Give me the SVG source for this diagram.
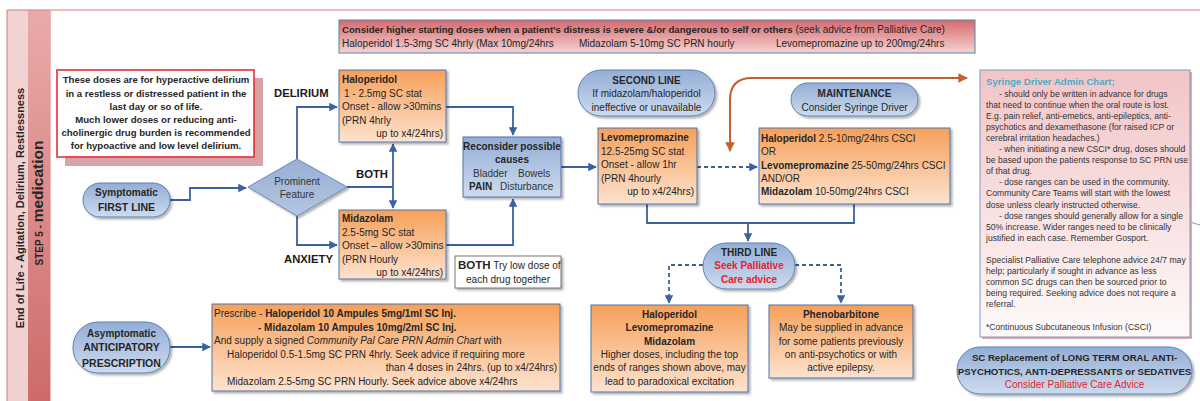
<svg xmlns="http://www.w3.org/2000/svg" width="1200" height="401" viewBox="0 0 1200 401">
<defs>
<linearGradient id="gOrange" x1="0" y1="0" x2="0" y2="1"><stop offset="0" stop-color="#f6a05a"/><stop offset="1" stop-color="#fde3cf"/></linearGradient>
<linearGradient id="gBlue" x1="0" y1="0" x2="0" y2="1"><stop offset="0" stop-color="#94aed6"/><stop offset="1" stop-color="#cddbee"/></linearGradient>
<linearGradient id="gRed" x1="0" y1="0" x2="0" y2="1"><stop offset="0" stop-color="#d5696c"/><stop offset="1" stop-color="#f5d3d3"/></linearGradient>
<linearGradient id="gPink" x1="0" y1="0" x2="0" y2="1"><stop offset="0" stop-color="#f2c4c6"/><stop offset="1" stop-color="#fefafa"/></linearGradient>
<linearGradient id="gStrip1" x1="0" y1="0" x2="0" y2="1"><stop offset="0" stop-color="#f1d3d3"/><stop offset="1" stop-color="#f0d0d0"/></linearGradient>
<linearGradient id="gStrip2" x1="0" y1="0" x2="0" y2="1"><stop offset="0" stop-color="#eaaaaa"/><stop offset="1" stop-color="#cd6b6b"/></linearGradient>
<linearGradient id="gDiam" x1="0" y1="0" x2="0" y2="1"><stop offset="0" stop-color="#98afd4"/><stop offset="1" stop-color="#b3c5e1"/></linearGradient>
<filter id="sh" x="-10%" y="-10%" width="130%" height="140%"><feDropShadow dx="2" dy="2" stdDeviation="1" flood-color="#000" flood-opacity="0.3"/></filter>
<marker id="ab" viewBox="0 0 10 10" refX="9" refY="5" markerWidth="4.8" markerHeight="4.8" orient="auto-start-reverse"><path d="M0,0 L10,5 L0,10 z" fill="#3a62a0"/></marker>
<marker id="ao" viewBox="0 0 10 10" refX="9" refY="5" markerWidth="4.8" markerHeight="4.8" orient="auto-start-reverse"><path d="M0,0 L10,5 L0,10 z" fill="#c0622a"/></marker>
<style>
text{font-family:"Liberation Sans",Arial,sans-serif;font-size:10px;fill:#262626}
.b{font-weight:bold}
.c{text-anchor:middle}
.e{text-anchor:end}
.box{fill:url(#gOrange);stroke:#4f73a8;stroke-width:1;filter:url(#sh)}
.pill{fill:url(#gBlue);stroke:#5b80b4;stroke-width:1;filter:url(#sh)}
.ln{fill:none;stroke:#3a62a0;stroke-width:1.8}
.dash{stroke-dasharray:4 3}
.red{fill:#e8222a}
.lab{font-weight:bold;font-size:11.3px;fill:#1a1a1a}
.sm{font-size:8.6px;fill:#333}
</style>
</defs>
<rect width="1200" height="401" fill="#ffffff"/>

<g id="frame">
<rect x="7" y="10" width="21" height="391" fill="url(#gStrip1)"/>
<rect x="28" y="10" width="22" height="391" fill="url(#gStrip2)"/>
<line x1="7" y1="10" x2="1200" y2="10" stroke="#d9777a" stroke-width="1"/>
<line x1="7" y1="10" x2="7" y2="401" stroke="#d9777a" stroke-width="1"/>
<line x1="50.5" y1="10" x2="50.5" y2="401" stroke="#e6b8b8" stroke-width="1"/>
<text class="b" transform="translate(24,208) rotate(-90)" text-anchor="middle" style="font-size:11px">End of Life - Agitation, Delirium, Restlessness</text>
<text class="b" transform="translate(43,203) rotate(-90)" text-anchor="middle"><tspan style="font-size:10px">STEP 5 - </tspan><tspan style="font-size:15.5px">medication</tspan></text>
</g>

<g id="connectors">
<path class="ln" d="M170,200 H190 V188 H246" marker-end="url(#ab)"/>
<path class="ln" d="M297,159 V107 H337" marker-end="url(#ab)"/>
<path class="ln" d="M347,187 H393"/>
<path class="ln" d="M393,187 V144" marker-end="url(#ab)"/>
<path class="ln" d="M393,187 V208" marker-end="url(#ab)"/>
<path class="ln" d="M297,216 V245 H337" marker-end="url(#ab)"/>
<path class="ln" d="M446,107 H513 V135" marker-end="url(#ab)"/>
<path class="ln" d="M446,245 H513 V199" marker-end="url(#ab)"/>
<path class="ln" d="M561,167 H596" marker-end="url(#ab)"/>
<path class="ln dash" d="M697,167 H757" marker-end="url(#ab)"/>
<path class="ln" d="M647,204 V223 H854 V204"/>
<path class="ln" d="M748,223 V241" marker-end="url(#ab)"/>
<path class="ln dash" d="M703,265 H669 V303" marker-end="url(#ab)"/>
<path class="ln dash" d="M795,265 H841 V303" marker-end="url(#ab)"/>
<path class="ln" d="M170,347 H210" marker-end="url(#ab)"/>
<path d="M730,151 V100 Q730,78 752,78 H967" fill="none" stroke="#c0622a" stroke-width="2" marker-start="url(#ao)" marker-end="url(#ao)"/>
<path d="M1190,222 L1200,225" fill="none" stroke="#7f97c2" stroke-width="1"/>
</g>

<g id="consider-box">
<rect x="339" y="20" width="636" height="33" fill="url(#gRed)" stroke="#5b80b4" stroke-width="1"/>
<text x="342" y="33"><tspan class="b" style="font-size:9.6px">Consider higher starting doses when a patient’s distress is severe &amp;/or dangerous to self or others</tspan> (seek advice from Palliative Care)</text>
<text x="342" y="47">Haloperidol 1.5-3mg SC 4hrly (Max 10mg/24hrs</text>
<text x="579" y="47">Midazolam 5-10mg SC PRN hourly</text>
<text x="776" y="47">Levomepromazine up to 200mg/24hrs</text>
</g>

<g id="note">
<rect x="65" y="78" width="198" height="88" fill="#d9a3a5"/>
<rect x="57" y="70" width="197" height="87" fill="#ffffff" stroke="#e8222a" stroke-width="1.5"/>
<text class="b c" x="156" style="font-size:9.6px"><tspan x="156" y="83">These doses are for hyperactive delirium</tspan><tspan x="156" y="97">in a restless or distressed patient in the</tspan><tspan x="156" y="110">last day or so of life.</tspan><tspan x="156" y="123">Much lower doses or reducing anti-</tspan><tspan x="156" y="136">cholinergic drug burden is recommended</tspan><tspan x="156" y="149">for hypoactive and low level delirium.</tspan></text>
</g>

<g id="labels">
<text class="lab" x="274" y="97">DELIRIUM</text>
<text class="lab" x="356" y="178">BOTH</text>
<text class="lab" x="284" y="263">ANXIETY</text>
</g>

<g id="first-line">
<rect class="pill" x="83" y="183" width="87" height="34" rx="17"/>
<text class="b c" x="126.5" y="196">Symptomatic</text>
<text class="b c" x="126.5" y="211" style="font-size:10.5px">FIRST LINE</text>
</g>

<g id="prominent">
<polygon points="248,187 297,159 347,187 297,216" fill="url(#gDiam)" stroke="#6b8ab5" stroke-width="1" filter="url(#sh)"/>
<text class="c" x="297" y="185" style="fill:#333">Prominent</text>
<text class="c" x="297" y="198" style="fill:#333">Feature</text>
</g>

<g id="haloperidol">
<rect class="box" x="339" y="70" width="107" height="72"/>
<text class="b" x="342" y="83">Haloperidol</text>
<text x="344" y="97">1 - 2.5mg SC stat</text>
<text x="342" y="110">Onset - allow &gt;30mins</text>
<text x="342" y="124">(PRN 4hrly</text>
<text class="e" x="443" y="137">up to x4/24hrs)</text>
</g>

<g id="midazolam">
<rect class="box" x="339" y="210" width="107" height="69"/>
<text class="b" x="342" y="222">Midazolam</text>
<text x="342" y="236">2.5-5mg SC stat</text>
<text x="342" y="249">Onset – allow &gt;30mins</text>
<text x="342" y="263">(PRN Hourly</text>
<text class="e" x="443" y="276">up to x4/24hrs)</text>
</g>

<g id="reconsider">
<rect x="463" y="137" width="98" height="60" fill="url(#gBlue)" stroke="#4f73a8" stroke-width="1" filter="url(#sh)"/>
<text class="b c" x="512" y="150">Reconsider possible</text>
<text class="b c" x="512" y="163">causes</text>
<text x="473" y="177" style="fill:#333">Bladder</text>
<text x="518" y="177" style="fill:#333">Bowels</text>
<text class="b" x="469" y="190">PAIN</text>
<text x="500" y="190" style="fill:#333">Disturbance</text>
</g>

<g id="both-note">
<rect x="455" y="256" width="106" height="32" fill="#ffffff" stroke="#555" stroke-width="0.8" filter="url(#sh)"/>
<text x="458" y="269"><tspan class="b" style="font-size:11.5px">BOTH</tspan> Try low dose of</text>
<text class="c" x="508" y="283">each drug together</text>
</g>

<g id="second-line">
<rect class="pill" x="578" y="70" width="137" height="46" rx="23"/>
<text class="b c" x="646.5" y="84">SECOND LINE</text>
<text class="c" x="646.5" y="97">If midazolam/haloperidol</text>
<text class="c" x="646.5" y="111">ineffective or unavailable</text>
</g>

<g id="levomepromazine">
<rect class="box" x="598" y="128" width="99" height="76"/>
<text class="b" x="601" y="141">Levomepromazine</text>
<text x="601" y="155">12.5-25mg SC stat</text>
<text x="601" y="168">Onset - allow 1hr</text>
<text x="601" y="182">(PRN 4hourly</text>
<text class="e" x="694" y="195">up to x4/24hrs)</text>
</g>

<g id="maintenance">
<rect class="pill" x="791" y="83" width="127" height="33" rx="16.5"/>
<text class="b c" x="854.5" y="97">MAINTENANCE</text>
<text class="c" x="854.5" y="111">Consider Syringe Driver</text>
</g>

<g id="csci">
<rect class="box" x="759" y="128" width="191" height="76"/>
<text x="761" y="142"><tspan class="b">Haloperidol</tspan> 2.5-10mg/24hrs CSCI</text>
<text x="761" y="155">OR</text>
<text x="761" y="169"><tspan class="b">Levomepromazine</tspan> 25-50mg/24hrs CSCI</text>
<text x="761" y="182">AND/OR</text>
<text x="761" y="195"><tspan class="b">Midazolam</tspan> 10-50mg/24hrs CSCI</text>
</g>

<g id="third-line">
<rect class="pill" x="703" y="243" width="92" height="46" rx="23"/>
<text class="b c" x="749" y="256">THIRD LINE</text>
<text class="b c red" x="749" y="269">Seek Palliative</text>
<text class="b c red" x="749" y="283">Care advice</text>
</g>

<g id="higher-doses">
<rect class="box" x="591" y="305" width="157" height="87"/>
<text class="b c" x="669.5" y="318">Haloperidol</text>
<text class="b c" x="669.5" y="331">Levomepromazine</text>
<text class="b c" x="669.5" y="345">Midazolam</text>
<text class="c" x="669.5" y="358">Higher doses, including the top</text>
<text class="c" x="669.5" y="371">ends of ranges shown above, may</text>
<text class="c" x="669.5" y="385">lead to paradoxical excitation</text>
</g>

<g id="phenobarbitone">
<rect class="box" x="769" y="305" width="144" height="73"/>
<text class="b c" x="841" y="318">Phenobarbitone</text>
<text class="c" x="841" y="331">May be supplied in advance</text>
<text class="c" x="841" y="345">for some patients previously</text>
<text class="c" x="841" y="358">on anti-psychotics or with</text>
<text class="c" x="841" y="371">active epilepsy.</text>
</g>

<g id="anticipatory">
<rect class="pill" x="73" y="322" width="97" height="51" rx="25"/>
<text class="b c" x="121.5" y="337">Asymptomatic</text>
<text class="b c" x="121.5" y="351" style="font-size:10.5px">ANTICIPATORY</text>
<text class="b c" x="121.5" y="367" style="font-size:10.5px">PRESCRIPTION</text>
</g>

<g id="prescribe">
<rect class="box" x="212" y="304" width="348" height="87"/>
<text x="214" y="317">Prescribe - <tspan class="b">Haloperidol 10 Ampules 5mg/1ml SC Inj.</tspan></text>
<text class="b" x="258" y="331">- Midazolam 10 Ampules 10mg/2ml SC Inj.</text>
<text x="214" y="344">And supply a signed <tspan font-style="italic">Community Pal Care PRN Admin Chart</tspan> with</text>
<text x="227" y="358">Haloperidol 0.5-1.5mg SC PRN 4hrly. Seek advice if requiring more</text>
<text class="e" x="557" y="371">than 4 doses in 24hrs. (up to x4/24hrs)</text>
<text x="227" y="385">Midazolam 2.5-5mg SC PRN Hourly. Seek advice above x4/24hrs</text>
</g>

<g id="syringe-chart">
<rect x="982" y="72" width="210" height="267" fill="#e8a9ab"/>
<rect x="980" y="70" width="210" height="267" fill="url(#gPink)" stroke="#7f97c2" stroke-width="1"/>
<text class="b" x="986" y="85" style="font-size:9.6px;fill:#4bacc6">Syringe Driver Admin Chart;</text>
<text class="sm"><tspan x="999" y="96.5">- should only be written in advance for drugs</tspan><tspan x="986" y="107.6">that need to continue when the oral route is lost.</tspan><tspan x="986" y="118.7">E.g. pain relief, anti-emetics, anti-epileptics, anti-</tspan><tspan x="986" y="129.8">psychotics and dexamethasone (for raised ICP or</tspan><tspan x="986" y="140.9">cerebral irritation headaches.)</tspan><tspan x="999" y="152">- when initiating a new CSCI* drug, doses should</tspan><tspan x="986" y="163.1">be based upon the patients response to SC PRN use</tspan><tspan x="986" y="174.2">of that drug.</tspan><tspan x="999" y="185.3">- dose ranges can be used in the community.</tspan><tspan x="986" y="196.4">Community Care Teams will start with the lowest</tspan><tspan x="986" y="207.5">dose unless clearly instructed otherwise.</tspan><tspan x="999" y="218.6">- dose ranges should generally allow for a single</tspan><tspan x="986" y="229.7">50% increase. Wider ranges need to be clinically</tspan><tspan x="986" y="240.8">justified in each case. Remember Gosport.</tspan><tspan x="986" y="263">Specialist Palliative Care telephone advice 24/7 may</tspan><tspan x="986" y="274.1">help; particularly if sought in advance as less</tspan><tspan x="986" y="285.2">common SC drugs can then be sourced prior to</tspan><tspan x="986" y="296.3">being required. Seeking advice does not require a</tspan><tspan x="986" y="307.4">referral.</tspan><tspan x="986" y="329.6">*Continuous Subcutaneous Infusion (CSCI)</tspan></text>
</g>

<g id="sc-replacement">
<rect class="pill" x="957" y="347" width="235" height="47" rx="23"/>
<text class="b c" x="1074.5" y="361" style="font-size:9.6px">SC Replacement of LONG TERM ORAL ANTI-</text>
<text class="b c" x="1074.5" y="375" style="font-size:9.6px">PSYCHOTICS, ANTI-DEPRESSANTS or SEDATIVES</text>
<text class="c" x="1074.5" y="388" style="fill:#e8222a">Consider Palliative Care Advice</text>
</g>
</svg>
